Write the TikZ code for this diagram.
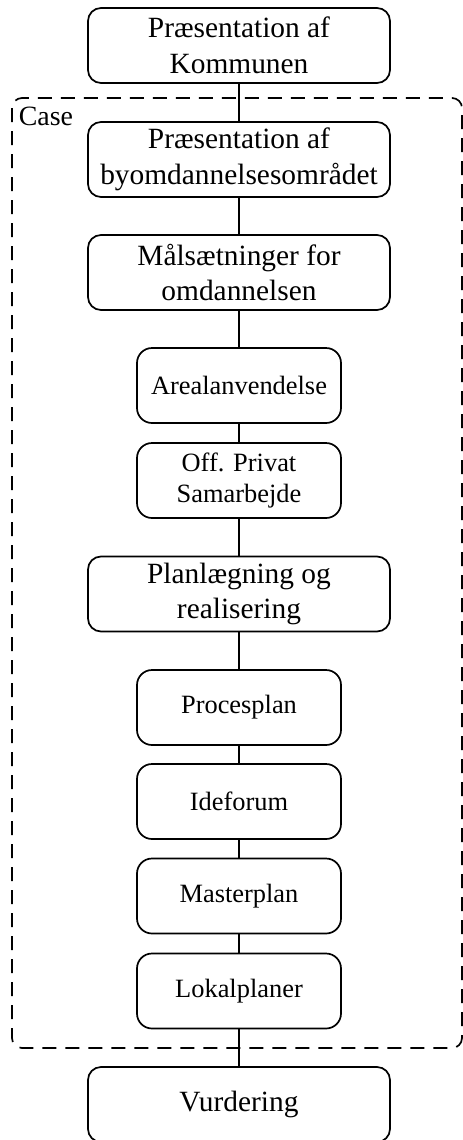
\documentclass[tikz,border=0pt]{standalone}
\usepackage{fontspec}
\setmainfont{Liberation Serif}
\begin{document}
\begin{tikzpicture}[x=1bp,y=-1bp,
  line width=1.7bp,
  bigbox/.style={draw, rounded corners=13bp, minimum width=302bp, minimum height=75bp,
    inner sep=0pt, align=center, font=\fontsize{29.5}{36}\selectfont},
  smallbox/.style={draw, rounded corners=15bp, minimum width=204bp, minimum height=75bp,
    inner sep=0pt, align=center, font=\fontsize{26.5}{31}\selectfont},
  casebox/.style={draw, dash pattern=on 14bp off 9bp, rounded corners=10bp},
  link/.style={draw}]
\useasboundingbox (0,0) rectangle (463,1140);
\clip (0,0) rectangle (463,1140);

% dashed frame around the case study
\draw[casebox] (12,98) rectangle (462,1048);
\node[anchor=north west, inner sep=0pt, font=\fontsize{28}{32}\selectfont] (case) at (18,106) {Case};

% steps
\node[bigbox]   (n1)  at (239,45.5)  {Præsentation af\\Kommunen};
\node[bigbox]   (n2)  at (239,159.5) {Præsentation af\\byomdannelsesområdet};
\node[bigbox]   (n3)  at (239,272.5) {Målsætninger for\\omdannelsen};
\node[smallbox] (n4)  at (239,385.5) {Arealanvendelse};
\node[smallbox] (n5)  at (239,480.5) {Off. Privat\\Samarbejde};
\node[bigbox]   (n6)  at (239,594)   {Planlægning og\\realisering};
\node[smallbox] (n7)  at (239,707.5) {Procesplan};
\node[smallbox] (n8)  at (239,801.5) {Ideforum};
\node[smallbox] (n9)  at (239,896)   {Masterplan};
\node[smallbox] (n10) at (239,991)   {Lokalplaner};
\node[bigbox]   (n11) at (239,1104.5){Vurdering};

% connectors
\foreach \a/\b in {n1/n2,n2/n3,n3/n4,n4/n5,n5/n6,n6/n7,n7/n8,n8/n9,n9/n10,n10/n11}
  \draw[link] (\a) -- (\b);
\end{tikzpicture}
\end{document}
